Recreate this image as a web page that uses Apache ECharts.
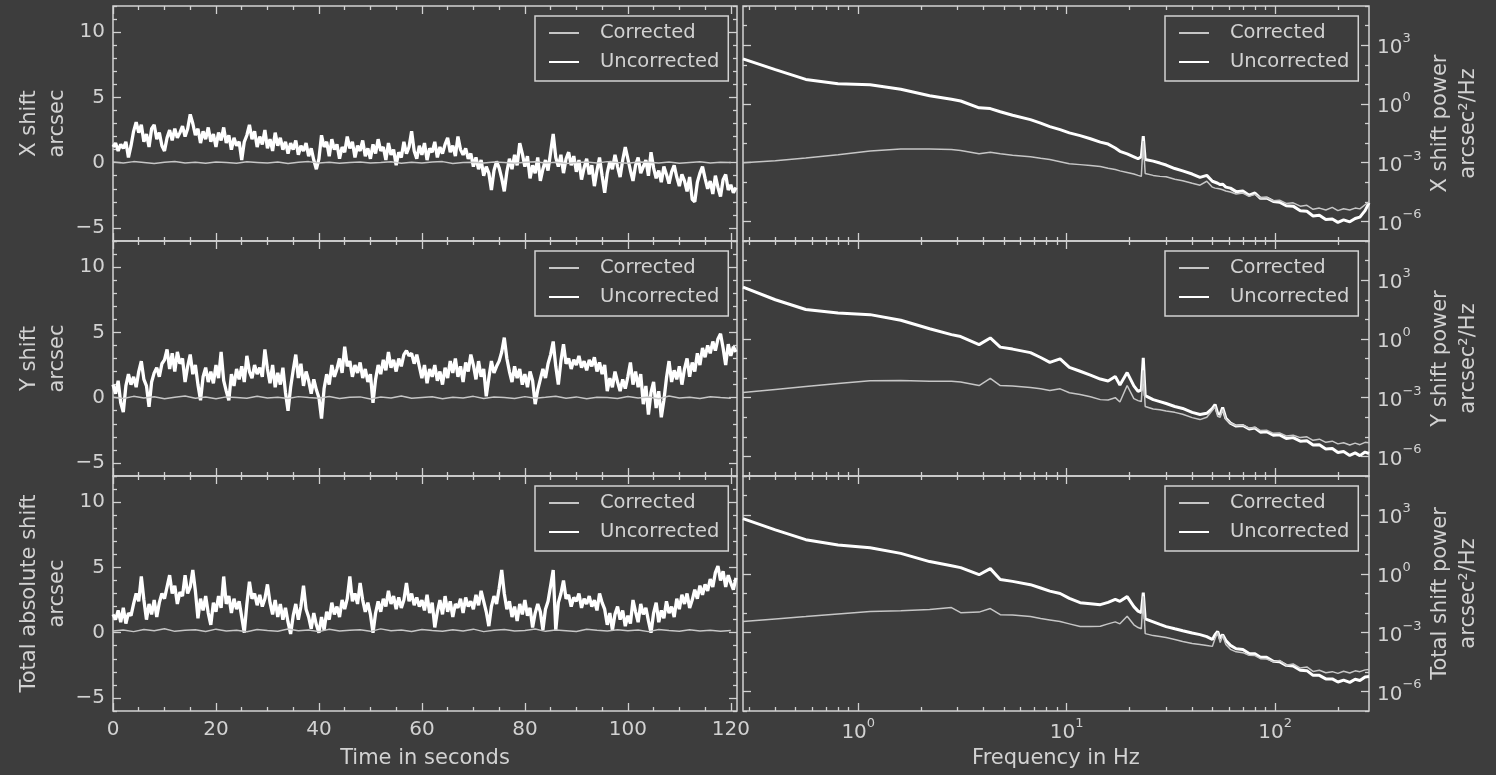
<!DOCTYPE html>
<html>
<head>
<meta charset="utf-8">
<script src="https://cdn.jsdelivr.net/npm/echarts@6/dist/echarts.min.js"></script>
<style>
html,body{margin:0;padding:0;background:#3d3d3d;}
#chart{width:1496px;height:775px;}
</style>
</head>
<body>
<div id="chart"></div>
<script>
// ---------------- DATA ----------------
const seriesNames = ['Corrected', 'Uncorrected'];
const timeStepUncorrected = 0.5;   // seconds between uncorrected samples
const timeStepCorrected = 2;       // seconds between corrected samples

// X shift (arcsec), uncorrected, t = 0 .. 121 s
const xShiftUncorrected = [
 1.2, 1.5, 0.9, 1.4, 1.1, 1.6, 0.4, 1.3, 2.4, 3.1,
 2.3, 2.9, 1.6, 2.2, 1.2, 2.6, 2.9, 1.8, 2.3, 1.3,
 0.9, 1.9, 2.5, 1.7, 2.6, 1.9, 2.3, 2.8, 2.0, 2.6,
 3.7, 3.0, 2.1, 2.6, 1.5, 2.4, 1.8, 2.7, 1.6, 2.2,
 1.2, 2.3, 1.7, 2.7, 1.5, 2.1, 1.0, 1.9, 1.3, 1.6,
 0.2, 1.6, 2.1, 2.9, 1.8, 2.4, 1.2, 2.0, 1.4, 2.5,
 1.1, 1.8, 0.9, 2.3, 1.3, 1.9, 1.0, 1.6, 0.7, 1.5,
 1.0, 1.7, 0.6, 1.3, 0.9, 1.5, 0.5, 1.1, 0.2, -0.5,
 0.3, 2.1, 1.2, 1.6, 0.5, 1.8, 1.0, 1.4, 0.3, 1.2,
 0.8, 2.0, 1.1, 1.6, 0.4, 1.3, 0.9, 1.7, 0.5, 1.1,
 0.3, 1.4, 0.7, 1.8, 0.9, 1.2, 0.2, 1.5, 0.6, 1.0,
 -0.2, 0.8, 0.4, 1.6, 0.7, 1.2, 2.4, 0.9, 0.3, 1.3,
 0.6, 1.5, 0.2, 1.1, 0.8, 1.6, 0.4, 1.2, 0.7, 1.4,
 1.9, 0.8, 1.3, 0.5, 2.0, 1.0, 0.6, 1.1, 0.3, 0.7,
 -0.3, 0.4, -0.5, 0.2, -1.0, -0.3, -0.8, -2.1, -0.6, 0.1,
 -0.4, -1.2, -2.2, -0.7, 0.3, -0.5, 0.6, -0.2, 1.5, 0.7,
 -0.3, 0.5, -1.2, -0.2, -0.8, 0.4, -1.4, -0.5, 0.2, -0.6,
 0.8, 2.2, 0.4, -0.3, 0.6, -0.8, 0.3, 0.8, -0.2, 0.5,
 -0.7, 0.2, -1.3, -0.4, 0.3, -0.9, -0.2, -1.8, -0.6, 0.4,
 -1.0, -2.3, -0.8, 0.1, -0.5, 0.6, -0.3, -1.1, 0.2, 1.2,
 0.3, -0.6, -1.4, -0.2, 0.4, -0.8, -0.3, 0.2, -1.0, 0.8,
 -0.4, -1.2, -0.6, -1.5, -0.3, -0.9, -1.6, -0.7, -0.2, -1.1,
 -1.8, -0.9, -1.4, -2.2, -1.1, -2.8, -3.0, -1.5, -0.8, -0.3,
 -1.2, -2.0, -1.4, -2.4, -1.0, -1.9, -2.6, -1.3, -0.9, -2.1,
 -1.7, -2.3, -1.9
];
const xShiftCorrected = [
 0.05,-0.03,0.08,0.02,-0.06,0.04,0.09,-0.02,0.03,-0.05,
 0.06,0.01,-0.04,0.07,0.02,-0.03,0.05,-0.06,0.03,0.08,
 -0.02,0.04,-0.05,0.02,0.06,-0.03,0.01,0.07,-0.04,0.03,
 -0.02,0.05,0.08,-0.06,0.02,0.04,-0.03,0.06,0.01,-0.05,
 0.03,0.07,-0.02,0.04,-0.06,0.02,0.05,-0.03,0.08,0.01,
 -0.04,0.06,0.03,-0.02,0.05,-0.05,0.02,0.07,-0.03,0.04,
 0.01
];

// Y shift (arcsec)
const yShiftUncorrected = [
 1.0, 0.3, 1.3, -0.4, -1.1, 0.9, 1.8, 1.0, 1.6, 0.8,
 2.0, 2.8, 1.4, 0.9, -0.7, 1.2, 1.9, 2.3, 1.6, 2.6,
 2.9, 3.7, 2.2, 3.4, 2.0, 3.5, 2.6, 3.0, 1.2, 2.4,
 3.3, 1.8, 2.5, 1.0, -0.2, 1.6, 2.3, 1.2, 2.0, 1.1,
 2.5, 1.5, 3.5, 1.3, 0.5, -0.2, 1.8, 0.9, 2.2, 1.4,
 2.4, 1.2, 3.2, 2.0, 1.5, 2.5, 1.8, 2.3, 1.6, 3.7,
 2.2, 1.1, 2.5, 0.8, 1.9, 1.0, 2.3, 0.4, -1.0, 0.8,
 2.1, 3.3, 1.5, 2.6, 0.9, 2.0, 1.3, 0.3, 1.4, 0.6,
 0.0, -1.6, 0.7, 1.8, 1.0, 2.5, 1.6, 2.2, 3.0, 1.9,
 3.9, 2.4, 2.8, 1.6, 2.5, 1.9, 2.7, 1.5, 2.2, 1.2,
 1.8, -0.4, 1.4, 2.5, 1.8, 2.9, 2.1, 3.5, 2.3, 2.9,
 2.0, 3.0, 2.4, 3.3, 3.6, 3.2, 3.4, 2.6, 3.3, 2.4,
 1.5, 2.5, 1.1, 2.2, 1.6, 2.5, 1.3, 2.0, 1.0, 2.3,
 1.5, 2.8, 1.9, 3.0, 1.6, 2.4, 1.2, 2.7, 2.0, 3.3,
 2.5, 1.4, 2.8, 1.6, 2.2, 0.1, 1.5, 2.8, 1.9, 2.4,
 2.8, 3.5, 4.6, 3.0, 2.0, 1.2, 2.4, 1.5, 2.2, 1.0,
 1.8, 0.8, 2.0, 1.3, -0.5, 0.6, 1.4, 2.2, 1.5, 2.6,
 3.3, 4.3, 2.4, 1.0, 2.8, 4.1, 2.6, 3.0, 2.2, 2.9,
 2.5, 3.2, 2.3, 2.8, 2.1, 2.9, 2.4, 3.1, 2.0, 2.7,
 1.8, 2.5, 0.5, 1.5, 0.8, 2.0, 1.2, 0.5, 1.4, 0.7,
 1.6, 2.7, 1.0, 2.0, 0.8, 1.8, -0.5, 0.9, -1.3, 0.4,
 1.2, -0.8, 0.5, -1.5, -0.2, 1.5, 2.8, 1.2, 2.1, 1.4,
 2.4, 1.0, 2.2, 3.0, 1.6, 2.7, 2.0, 3.4, 2.5, 3.8,
 3.1, 4.0, 3.4, 4.3, 3.6, 4.5, 4.9, 3.8, 2.5, 4.1,
 3.2, 3.9, 3.5
];
const yShiftCorrected = [
 0.04,-0.06,0.10,-0.02,0.07,-0.08,0.03,0.12,-0.04,0.05,
 -0.09,0.06,0.02,-0.05,0.11,-0.03,0.04,-0.07,0.08,0.01,
 -0.04,0.09,-0.06,0.03,0.06,-0.10,0.05,-0.02,0.13,-0.05,
 0.02,0.07,-0.08,0.04,-0.03,0.10,-0.06,0.05,0.01,-0.07,
 0.08,-0.04,0.03,0.11,-0.05,0.06,-0.09,0.04,0.02,-0.06,
 0.09,-0.03,0.05,-0.08,0.12,-0.02,0.04,-0.06,0.07,0.01,
 -0.04
];

// Total absolute shift (arcsec)
const totalShiftUncorrected = [
 1.4, 1.0, 1.7, 0.8, 1.9, 0.7, 1.5, 1.3, 2.2, 3.0,
 2.4, 4.3, 2.5, 1.0, 2.2, 1.4, 2.5, 1.2, 2.3, 3.0,
 2.6, 3.5, 4.4, 3.0, 3.6, 2.2, 3.1, 2.8, 4.4, 3.0,
 3.5, 4.8, 3.2, 1.1, 2.6, 1.7, 2.8, 1.5, 0.6, 2.3,
 1.6, 2.8, 1.9, 4.3, 2.2, 2.8, 1.5, 2.6, 1.8, 2.4,
 1.2, 0.0, 2.2, 3.9, 2.6, 3.0, 2.1, 2.9, 2.0, 2.6,
 3.7, 2.3, 1.4, 2.5, 1.2, 2.2, 1.0, 1.9, 0.8, -0.1,
 1.3, 2.2, 1.0, 2.0, 3.6, 1.8, 1.2, 0.3, 1.5, 0.6,
 0.0, 1.2, 0.2, 1.6, 1.0, 2.3, 1.4, 2.0, 1.2, 2.5,
 1.8, 2.6, 4.3, 2.4, 3.0, 2.2, 3.8, 2.5, 1.6, 2.3,
 1.4, 0.0, 1.5, 2.4, 1.6, 2.6, 2.0, 3.2, 2.2, 2.8,
 1.8, 2.7, 1.9, 2.5, 3.8, 2.4, 3.0, 2.1, 2.7, 2.0,
 2.5, 1.7, 2.9, 1.5, 2.3, 0.4, 1.6, 2.5, 1.4, 2.8,
 1.6, 2.4, 1.2, 2.2, 1.9, 2.6, 1.5, 2.7, 2.0, 2.4,
 1.8, 2.9, 2.1, 3.2, 2.4, 1.6, 0.5, 2.0, 2.8, 2.2,
 3.4, 4.8, 3.0, 1.8, 2.4, 1.2, 2.0, 0.9, 2.2, 1.4,
 2.5, 1.3, 1.9, 0.4, 1.5, 2.2, 1.6, 0.2, 1.8, 2.4,
 3.6, 4.8, 0.2, 2.3, 3.0, 4.0, 2.6, 2.9, 2.0, 2.7,
 2.4, 3.0, 1.9, 2.6, 2.2, 2.8, 2.0, 2.5, 1.7, 3.0,
 2.3, 1.8, 0.6, 1.5, 0.2, 1.4, 2.0, 1.0, 1.7, 0.5,
 1.3, 0.7, 2.5, 1.6, 0.8, 2.2, 1.4, 1.9, 0.9, 0.0,
 1.5, 2.3, 0.8, 1.7, 1.1, 2.4, 1.5, 2.0, 1.2, 2.6,
 1.8, 2.9, 2.2, 3.0, 1.9, 2.5, 3.3, 2.6, 3.6, 2.9,
 3.7, 3.2, 4.1, 3.5, 4.6, 5.1, 4.0, 4.7, 3.5, 4.4,
 3.8, 3.3, 4.2
];
const totalShiftCorrected = [
 0.12,0.20,0.08,0.25,0.14,0.30,0.10,0.18,0.22,0.09,
 0.27,0.13,0.19,0.07,0.24,0.16,0.11,0.28,0.15,0.21,
 0.08,0.26,0.12,0.18,0.23,0.10,0.29,0.14,0.20,0.09,
 0.25,0.17,0.11,0.22,0.13,0.27,0.08,0.19,0.24,0.12,
 0.16,0.28,0.10,0.21,0.15,0.09,0.26,0.18,0.12,0.23,
 0.14,0.20,0.08,0.25,0.17,0.11,0.22,0.13,0.19,0.10,
 0.16
];

// Power spectra: frequencies (Hz) and log10 of power (arcsec^2/Hz)
const psdFreq = [
 0.28, 0.4, 0.56, 0.8, 1.14, 1.6, 2.2, 2.8, 3.1, 3.8,
 4.3, 4.8, 5.5, 6.7, 7.5, 8.3, 9.3, 10.3, 11.6, 13.0,
 14.5, 15.8, 17.1, 18.0, 19.5, 21.0, 22.0, 22.8, 23.3, 23.8,
 24.3, 26, 28, 30, 33, 36, 40, 43.6, 47, 50,
 51.5, 53, 54.5, 56, 58, 61, 65, 70, 75, 80,
 85, 91, 98, 105, 113, 122, 132, 142, 152, 163,
 175, 188, 200, 213, 228, 242, 255, 270, 282
];
const xPowerUncorrectedLog = [
 2.30, 1.75, 1.25, 1.03, 0.98, 0.75, 0.42, 0.24, 0.15, -0.20,
 -0.24, -0.40, -0.58, -0.80, -0.98, -1.16, -1.31, -1.48, -1.62, -1.78,
 -1.95, -2.05, -2.25, -2.42, -2.55, -2.70, -2.80, -2.70, -1.65, -2.84,
 -2.80, -2.92, -3.02, -3.12, -3.30, -3.42, -3.58, -3.75, -3.65, -3.95,
 -4.00, -4.05, -4.12, -4.10, -4.25, -4.30, -4.48, -4.45, -4.66, -4.55,
 -4.82, -4.80, -4.98, -5.02, -5.20, -5.22, -5.45, -5.48, -5.72, -5.68,
 -5.90, -5.88, -6.05, -5.92, -6.02, -5.85, -5.78, -5.45, -5.05
];
const xPowerCorrectedLog = [
 -3.01, -2.90, -2.76, -2.60, -2.40, -2.30, -2.30, -2.33, -2.38, -2.54,
 -2.47, -2.55, -2.62, -2.70, -2.78, -2.84, -2.95, -3.05, -3.10, -3.15,
 -3.20, -3.28, -3.35, -3.42, -3.50, -3.58, -3.65, -3.70, -1.90, -3.55,
 -3.62, -3.65, -3.70, -3.72, -3.85, -3.92, -4.05, -4.15, -3.95, -4.25,
 -4.30, -4.32, -4.35, -4.38, -4.45, -4.50, -4.60, -4.55, -4.72, -4.62,
 -4.80, -4.78, -4.95, -4.92, -5.08, -5.05, -5.22, -5.18, -5.38, -5.32,
 -5.42, -5.28, -5.45, -5.35, -5.42, -5.32, -5.36, -5.15, -5.00
];
const yPowerUncorrectedLog = [
 2.65, 2.00, 1.50, 1.32, 1.24, 0.95, 0.52, 0.22, 0.12, -0.29,
 0.05, -0.42, -0.52, -0.70, -0.95, -1.20, -1.02, -1.45, -1.65, -1.85,
 -2.05, -2.15, -1.92, -2.35, -1.72, -2.40, -2.68, -2.60, -0.96, -2.90,
 -3.00, -3.10, -3.20, -3.30, -3.45, -3.55, -3.75, -3.86, -3.80, -3.55,
 -3.35, -3.80, -3.86, -3.50, -4.05, -4.30, -4.45, -4.42, -4.60, -4.55,
 -4.76, -4.74, -4.92, -4.90, -5.08, -5.04, -5.22, -5.20, -5.42, -5.40,
 -5.62, -5.60, -5.80, -5.75, -5.95, -5.82, -5.96, -5.78, -5.85
];
const yPowerCorrectedLog = [
 -2.74, -2.58, -2.43, -2.28, -2.13, -2.12, -2.16, -2.16, -2.20, -2.38,
 -2.02, -2.38, -2.40, -2.48, -2.55, -2.63, -2.55, -2.75, -2.84, -2.95,
 -3.10, -3.12, -3.00, -3.22, -2.38, -3.05, -3.15, -3.20, -1.60, -3.45,
 -3.55, -3.58, -3.62, -3.68, -3.75, -3.85, -4.02, -4.12, -4.00, -3.65,
 -3.45, -3.95, -4.00, -3.60, -4.10, -4.30, -4.42, -4.40, -4.56, -4.52,
 -4.68, -4.66, -4.82, -4.80, -4.96, -4.92, -5.04, -5.00, -5.18, -5.12,
 -5.28, -5.22, -5.36, -5.30, -5.42, -5.32, -5.40, -5.28, -5.30
];
const totalPowerUncorrectedLog = [
 2.82, 2.25, 1.75, 1.48, 1.34, 1.05, 0.63, 0.42, 0.32, -0.04,
 0.27, -0.28, -0.38, -0.55, -0.72, -0.88, -1.00, -1.25, -1.47, -1.52,
 -1.57, -1.45, -1.30, -1.40, -1.16, -1.67, -1.90, -1.98, -0.95, -2.30,
 -2.35, -2.45, -2.58, -2.69, -2.80, -2.90, -3.02, -3.10, -3.20, -3.35,
 -3.10, -2.94, -3.30, -3.10, -3.40, -3.65, -3.82, -3.86, -4.06, -4.08,
 -4.26, -4.26, -4.46, -4.48, -4.67, -4.70, -4.92, -4.94, -5.18, -5.18,
 -5.36, -5.36, -5.52, -5.42, -5.54, -5.38, -5.44, -5.26, -5.24
];
const totalPowerCorrectedLog = [
 -2.43, -2.30, -2.18, -2.05, -1.92, -1.88, -1.82, -1.72, -1.98, -1.95,
 -1.77, -2.08, -2.10, -2.18, -2.28, -2.35, -2.43, -2.55, -2.69, -2.68,
 -2.67, -2.55, -2.45, -2.55, -2.16, -2.60, -2.74, -2.80, -1.14, -3.05,
 -3.10, -3.15, -3.20, -3.25, -3.35, -3.45, -3.55, -3.60, -3.65, -3.70,
 -3.30, -3.00, -3.50, -3.15, -3.60, -3.85, -3.98, -4.02, -4.15, -4.17,
 -4.33, -4.35, -4.48, -4.42, -4.66, -4.60, -4.81, -4.75, -4.98, -4.92,
 -5.05, -4.99, -5.08, -4.97, -5.06, -4.95, -4.99, -4.90, -4.88
];

// Axis ticks
const timeMajorTicks = [0, 20, 40, 60, 80, 100, 120];
const timeMinorTicks = [5,10,15,25,30,35,45,50,55,65,70,75,85,90,95,105,110,115];
const shiftMajorTicks = [-5, 0, 5, 10];
const shiftMinorTicks = [-6,-4,-3,-2,-1,1,2,3,4,6,7,8,9,11,12];
const freqMajorTicks = [1, 10, 100];
const freqMinorTicks = [0.3,0.4,0.5,0.6,0.7,0.8,0.9,2,3,4,5,6,7,8,9,20,30,40,50,60,70,80,90,200];
const powerMajorTicks = [1e-6, 1e-3, 1, 1e3];
const powerMinorTicks = [1e-7,1e-5,1e-4,1e-2,1e-1,10,100,1e4,1e5];

const leftNames = ['X shift\narcsec', 'Y shift\narcsec', 'Total absolute shift\narcsec'];
const rightNames = ['X shift power\narcsec\u00b2/Hz', 'Y shift power\narcsec\u00b2/Hz', 'Total shift power\narcsec\u00b2/Hz'];
const timeTitle = 'Time in seconds';
const freqTitle = 'Frequency in Hz';

// ---------------- STYLE / LAYOUT ----------------
const BG = '#3d3d3d';
const FG = '#d2d2d2';
const WHITE = '#ffffff';
const GRAYLINE = '#c6c6c6';
const FONT = '"DejaVu Sans", sans-serif';
const LEFT_X = 113, LEFT_W = 624, RIGHT_X = 743, RIGHT_W = 626;
const ROW_TOPS = [6, 241, 476], ROW_H = 235;

const RICH = {
  b: {fontSize: 20, color: FG, fontFamily: FONT, lineHeight: 26, verticalAlign: 'bottom'},
  s: {fontSize: 13, color: FG, fontFamily: FONT, lineHeight: 26, verticalAlign: 'top'}
};
const minusFmt = v => (v < 0 ? '\u2212' + (-v) : String(v));
const powFmt = v => {
  const e = Math.round(Math.log10(v));
  return '{b|10}{s|' + (e < 0 ? '\u2212' + (-e) : e) + '}';
};

const grids = [], xAxes = [], yAxes = [], series = [], legends = [];

function addAxis(list, o) { list.push(o); return list.length - 1; }

function axisSet(list, dim, grid, cfg, showLabels, name, nameGap, labelSide) {
  const positions = dim === 'x' ? ['bottom', 'top'] : ['left', 'right'];
  let mainIdx = -1;
  positions.forEach(pos => {
    [true, false].forEach(isMajor => {
      const labelled = isMajor && showLabels && pos === labelSide;
      const ax = {
        type: cfg.type, gridIndex: grid, min: cfg.min, max: cfg.max, position: pos,
        axisLine: {show: false, onZero: false},
        splitLine: {show: false}, minorTick: {show: false}, minorSplitLine: {show: false},
        axisTick: {show: true, inside: true, length: isMajor ? 8 : 4,
          customValues: isMajor ? cfg.major : cfg.minor,
          lineStyle: {color: FG, width: 1.3}},
        axisLabel: {show: labelled, customValues: cfg.major, formatter: cfg.fmt,
          color: FG, fontSize: 20, fontFamily: FONT, margin: cfg.margin, rich: RICH},
        axisPointer: {show: false}
      };
      if (labelled && name) {
        ax.name = name;
        ax.nameLocation = 'middle';
        ax.nameGap = nameGap;
        if (dim === 'y') ax.nameRotate = 90;
        ax.nameTextStyle = {color: FG, fontSize: 21, fontFamily: FONT, lineHeight: 28, align: 'center'};
      }
      const idx = addAxis(list, ax);
      if (pos === positions[0] && isMajor) mainIdx = idx;
    });
  });
  return mainIdx;
}

const timeCfg = {type: 'value', min: 0, max: 121.2, major: timeMajorTicks, minor: timeMinorTicks, fmt: v => String(v), margin: 9};
const shiftCfg = {type: 'value', min: -6, max: 12, major: shiftMajorTicks, minor: shiftMinorTicks, fmt: minusFmt, margin: 8};
const freqCfg = {type: 'log', min: 0.28, max: 282, major: freqMajorTicks, minor: freqMinorTicks, fmt: powFmt, margin: 6};
const powerCfg = {type: 'log', min: 1e-7, max: 1e5, major: powerMajorTicks, minor: powerMinorTicks, fmt: powFmt, margin: 8};

const timeData = [
  [xShiftUncorrected, xShiftCorrected],
  [yShiftUncorrected, yShiftCorrected],
  [totalShiftUncorrected, totalShiftCorrected]
];
const psdData = [
  [xPowerUncorrectedLog, xPowerCorrectedLog],
  [yPowerUncorrectedLog, yPowerCorrectedLog],
  [totalPowerUncorrectedLog, totalPowerCorrectedLog]
];

function legendAt(left, top) {
  return {
    data: seriesNames, orient: 'vertical', left: left, top: top,
    backgroundColor: BG, borderColor: FG, borderWidth: 1.5, borderRadius: 0,
    padding: [6, 9, 8, 13], itemGap: 7, itemWidth: 30, itemHeight: 14,
    itemStyle: {color: 'transparent', borderColor: 'transparent', borderWidth: 0, opacity: 0},
    textStyle: {color: FG, fontSize: 19.5, fontFamily: FONT, lineHeight: 22, padding: [0, 0, 0, 16]},
    selectedMode: false
  };
}

for (let r = 0; r < 3; r++) {
  const isBottom = r === 2;
  // ----- left (time) panel -----
  const gL = grids.length;
  grids.push({left: LEFT_X, top: ROW_TOPS[r], width: LEFT_W, height: ROW_H,
    show: true, borderColor: FG, borderWidth: 1.5, backgroundColor: 'transparent', containLabel: false});
  const xL = axisSet(xAxes, 'x', gL, timeCfg, isBottom, isBottom ? timeTitle : null, 34, 'bottom');
  const yL = axisSet(yAxes, 'y', gL, shiftCfg, true, leftNames[r], 40, 'left');
  const [unc, cor] = timeData[r];
  series.push({
    name: 'Uncorrected', type: 'line', xAxisIndex: xL, yAxisIndex: yL, symbol: 'none', z: 2,
    lineStyle: {color: WHITE, width: 3.3}, itemStyle: {color: WHITE},
    data: unc.map((v, i) => [i * timeStepUncorrected, v])
  });
  series.push({
    name: 'Corrected', type: 'line', xAxisIndex: xL, yAxisIndex: yL, symbol: 'none', z: 3,
    lineStyle: {color: GRAYLINE, width: 1.5}, itemStyle: {color: GRAYLINE},
    data: cor.map((v, i) => [i * timeStepCorrected, v])
  });
  legends.push(legendAt(535, ROW_TOPS[r] + 10));

  // ----- right (spectrum) panel -----
  const gR = grids.length;
  grids.push({left: RIGHT_X, top: ROW_TOPS[r], width: RIGHT_W, height: ROW_H,
    show: true, borderColor: FG, borderWidth: 1.5, backgroundColor: 'transparent', containLabel: false});
  const xR = axisSet(xAxes, 'x', gR, freqCfg, isBottom, isBottom ? freqTitle : null, 34, 'bottom');
  const yR = axisSet(yAxes, 'y', gR, powerCfg, true, rightNames[r], 58, 'right');
  const [pu, pc] = psdData[r];
  series.push({
    name: 'Uncorrected', type: 'line', xAxisIndex: xR, yAxisIndex: yR, symbol: 'none', z: 2,
    lineStyle: {color: WHITE, width: 3}, itemStyle: {color: WHITE},
    data: psdFreq.map((f, i) => [f, Math.pow(10, pu[i])])
  });
  series.push({
    name: 'Corrected', type: 'line', xAxisIndex: xR, yAxisIndex: yR, symbol: 'none', z: 3,
    lineStyle: {color: GRAYLINE, width: 1.5}, itemStyle: {color: GRAYLINE},
    data: psdFreq.map((f, i) => [f, Math.pow(10, pc[i])])
  });
  legends.push(legendAt(1165, ROW_TOPS[r] + 10));
}

const chart = echarts.init(document.getElementById('chart'), null, {renderer: 'canvas'});
chart.setOption({
  backgroundColor: BG,
  animation: false,
  textStyle: {fontFamily: FONT},
  grid: grids, xAxis: xAxes, yAxis: yAxes, series: series, legend: legends
});
</script>
</body>
</html>
